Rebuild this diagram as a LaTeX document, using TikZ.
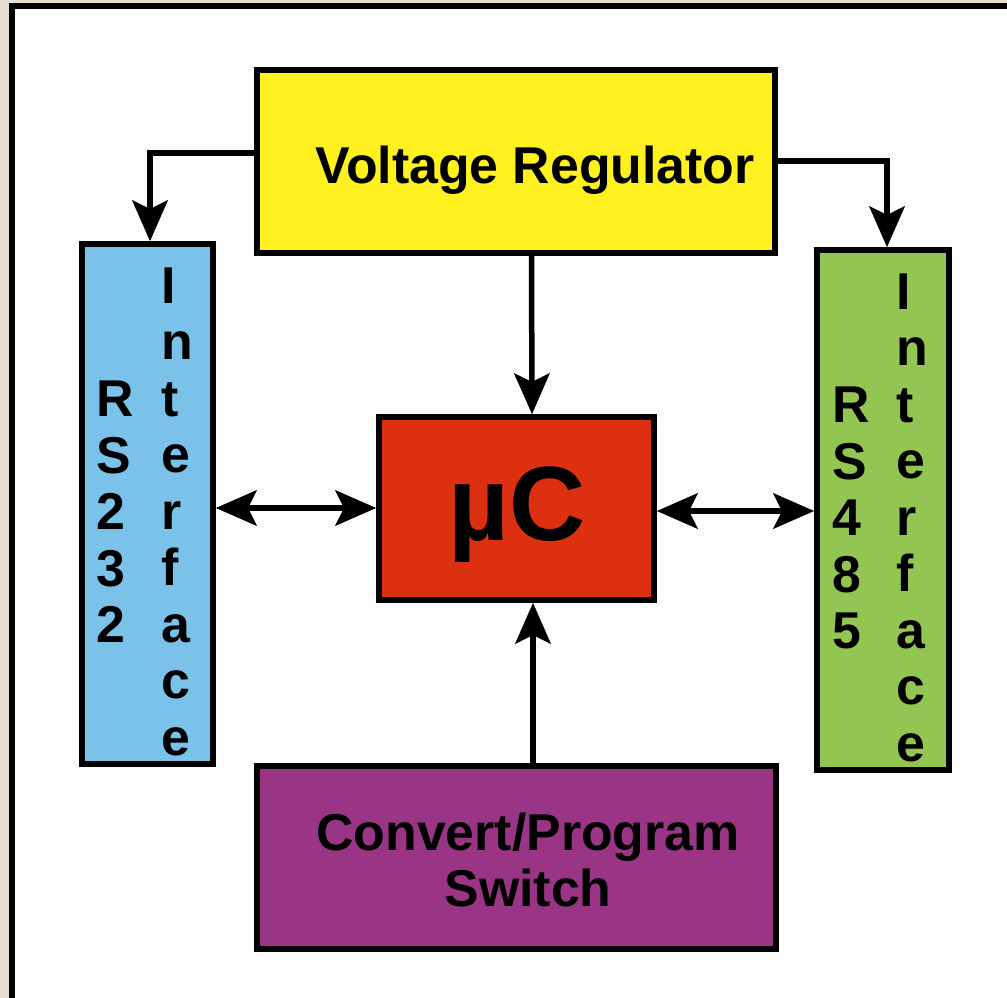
\documentclass[tikz,border=0pt]{standalone}
\usepackage{fontspec}
\setmainfont{Liberation Sans}
\usetikzlibrary{arrows.meta}
\definecolor{beige}{HTML}{E6DED1}
\definecolor{panel}{HTML}{FDFDFD}
\definecolor{vyellow}{HTML}{FFF11F}
\definecolor{vblue}{HTML}{7BC2EA}
\definecolor{vgreen}{HTML}{92C552}
\definecolor{vred}{HTML}{DC3010}
\definecolor{vpurple}{HTML}{9A3585}
\begin{document}
\begin{tikzpicture}[x=1bp,y=-1bp,
  box/.style={draw=black, line width=6bp, inner sep=0pt, outer sep=3bp},
  lbl/.style={inner sep=0pt, font=\bfseries\fontsize{52}{57}\selectfont},
  vlbl/.style={inner sep=0pt, anchor=base west, font=\bfseries\fontsize{52}{56.75}\selectfont},
  arr/.style={line width=5.5bp, -{Stealth[length=41bp,width=36bp,inset=9bp,line width=0.5bp]}},
  darr/.style={line width=5.5bp, {Stealth[length=41bp,width=36bp,inset=9bp,line width=0.5bp]}-{Stealth[length=41bp,width=36bp,inset=9bp,line width=0.5bp]}}]
\useasboundingbox (0,0) rectangle (1007,998);
\clip (0,0) rectangle (1007,998);
% background and panel
\fill[beige] (0,0) rectangle (1007,998);
\draw[fill=panel, line width=6bp] (12,6) rectangle (1030,1030);
% boxes
\node[box, fill=vyellow, minimum width=518bp, minimum height=183bp] (vr) at (516,161.5) {};
\node[box, fill=vblue, minimum width=131bp, minimum height=520bp] (rs232) at (147.5,504) {};
\node[box, fill=vgreen, minimum width=132bp, minimum height=520bp] (rs485) at (883,510) {};
\node[box, fill=vpurple, minimum width=519bp, minimum height=183bp] (sw) at (516.5,857.5) {};
\node[box, fill=vred, minimum width=275bp, minimum height=183bp] (uc) at (516.5,508.5) {};
% texts
\node[lbl, anchor=base] (vrtxt) at (535,183) {Voltage Regulator};
\node[lbl, anchor=base] (swtxt) at (528,850) {\begin{tabular}[t]{@{}c@{}}Convert/Program\\Switch\end{tabular}};
\node[inner sep=0pt, anchor=base, font=\bfseries\fontsize{106}{110}\selectfont] (uctxt) at (517,540) {µC};
\node[vlbl] (rs232a) at (96,416.5) {\begin{tabular}[t]{@{}l@{}}R\\S\\2\\3\\2\end{tabular}};
\node[vlbl] (rs232b) at (161,303) {\begin{tabular}[t]{@{}l@{}}I\\n\\t\\e\\r\\f\\a\\c\\e\end{tabular}};
\node[vlbl] (rs485a) at (832,422.5) {\begin{tabular}[t]{@{}l@{}}R\\S\\4\\8\\5\end{tabular}};
\node[vlbl] (rs485b) at (896,309) {\begin{tabular}[t]{@{}l@{}}I\\n\\t\\e\\r\\f\\a\\c\\e\end{tabular}};
% connectors
\draw[arr] (vr.west |- 0,153) -| ([xshift=2.5bp]rs232.north);
\draw[arr] (vr.east |- 0,161) -| ([xshift=4bp]rs485.north);
\draw[arr] ([xshift=15.5bp]vr.south) -- ([xshift=15.5bp]uc.north);
\draw[arr] ([xshift=16.5bp]sw.north) -- ([xshift=16.5bp]uc.south);
\draw[darr] (rs232.east |- 0,508) -- (uc.west |- 0,508);
\draw[darr] (uc.east |- 0,511) -- (rs485.west |- 0,511);
\end{tikzpicture}
\end{document}
